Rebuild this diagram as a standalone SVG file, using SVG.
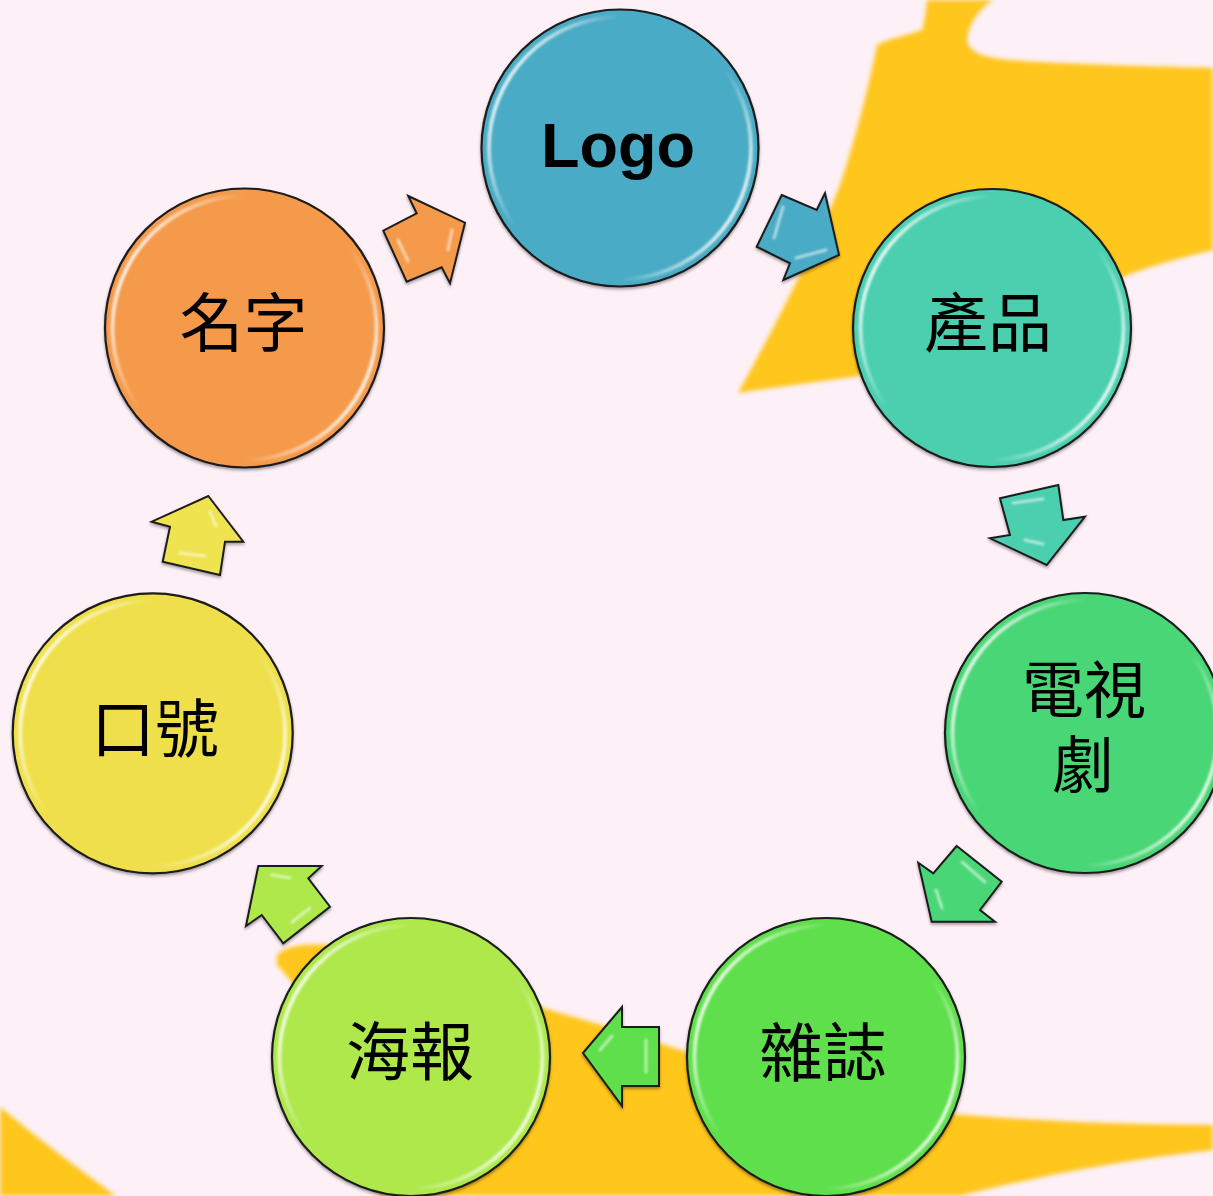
<svg xmlns="http://www.w3.org/2000/svg" width="1213" height="1196" viewBox="0 0 1213 1196">
<defs>
<style>
.bg{fill:#FDF0F7}
.swoosh{fill:#FFC61F}
.node{stroke:#1c1c1c;stroke-width:2.2}
.rim{fill:none;stroke:url(#rimGrad);stroke-width:4;filter:url(#soft)}
.arrow{stroke:#1c1c1c;stroke-width:2;stroke-linejoin:miter}
.ahl{fill:none;stroke:#ffffff;stroke-opacity:0.55;stroke-width:3;stroke-linecap:round;filter:url(#soft)}
.cjk{font-family:"Noto Sans CJK TC","Noto Sans CJK SC",sans-serif;font-size:64px;fill:#000;text-anchor:middle}
.latin{font-family:"Liberation Sans",Arial,sans-serif;font-size:63px;font-weight:bold;fill:#000;text-anchor:middle}
</style>
<linearGradient id="rimGrad" x1="0" y1="0.25" x2="1" y2="0.75">
<stop offset="0" stop-color="#fff" stop-opacity="0.95"/>
<stop offset="0.3" stop-color="#fff" stop-opacity="0"/>
<stop offset="0.7" stop-color="#fff" stop-opacity="0"/>
<stop offset="1" stop-color="#fff" stop-opacity="0.95"/>
</linearGradient>
<filter id="soft" x="-10%" y="-10%" width="120%" height="120%">
<feGaussianBlur stdDeviation="1"/>
</filter>
<filter id="shadow" x="-10%" y="-10%" width="120%" height="120%">
<feDropShadow dx="0" dy="2" stdDeviation="1.5" flood-color="#000" flood-opacity="0.35"/>
</filter>
<filter id="blurEdge" x="-5%" y="-5%" width="110%" height="110%">
<feGaussianBlur stdDeviation="2"/>
</filter>
</defs>

<g id="background">
<rect class="bg" x="0" y="0" width="1213" height="1196"/>
<path class="swoosh" filter="url(#blurEdge)" d="M927,0 L993,0 C978,10 968,25 967,40 C968,52 985,58 1010,60 C1060,64 1140,66 1213,68 L1213,250 C1180,258 1150,266 1128,275 C1040,310 930,360 853,377 C810,383 770,388 738,393 C770,335 810,260 840,185 C855,140 868,90 877,45 C890,38 905,36 922,30 C925,20 926,10 927,0 Z"/>
<path class="swoosh" filter="url(#blurEdge)" d="M0,1107 C40,1140 80,1170 116,1196 L0,1196 Z"/>
<path class="swoosh" filter="url(#blurEdge)" d="M277,955 C290,942 320,942 360,950 C430,965 500,995 550,1010 C620,1030 680,1050 760,1075 C840,1095 900,1110 965,1115 C1050,1122 1140,1125 1213,1125 L1213,1150 C1120,1160 1030,1178 960,1196 L380,1196 C360,1100 320,1010 277,965 Z"/>
</g>

<g id="connectors" filter="url(#shadow)">
<g id="arrow-logo-product">
<polygon class="arrow" fill="#4AABC5" points="781.7,195 816.7,210 825,193.3 839,255 783.3,280 790,263.3 756.7,246.7"/>
<path class="ahl" d="M783,207 L774,238 M796,258 L826,250"/>
</g>
<g id="arrow-product-tv">
<polygon class="arrow" fill="#4CCFAF" points="1000,498.3 1058.3,485 1063.3,520 1085,516.7 1046.7,565 990,538.3 1010,535"/>
<path class="ahl" d="M1013,503 L1043,499 M1025,540 L1043,544"/>
</g>
<g id="arrow-tv-magazine">
<polygon class="arrow" fill="#4AD676" points="956.7,846 1001.7,881.7 980,910 995,921.7 931.7,921.7 918.3,862.7 933.3,873.3"/>
<path class="ahl" d="M962,862 L985,882 M936,890 L942,908"/>
</g>
<g id="arrow-magazine-poster">
<polygon class="arrow" fill="#5FDF4B" points="583,1053 622,1007 622,1027 659,1027 659,1086 622,1086 622,1106"/>
<path class="ahl" d="M646,1040 L646,1072 M600,1050 L612,1036"/>
</g>
<g id="arrow-poster-slogan">
<polygon class="arrow" fill="#AEE84B" points="258.3,866 321.7,866 308.3,878.3 330,906.7 283.3,943.3 261.7,915 246,926"/>
<path class="ahl" d="M272,875 L290,878 M292,922 L310,908"/>
</g>
<g id="arrow-slogan-name">
<polygon class="arrow" fill="#EFE34F" points="208.3,496 243.3,541.7 225,541.7 220,575 162.7,561.7 170,526.7 151.7,521.7"/>
<path class="ahl" d="M210,512 L216,526 M180,553 L205,556"/>
</g>
<g id="arrow-name-logo">
<polygon class="arrow" fill="#F59A4B" points="408.3,196 465,222.7 450,283.3 441.7,267.3 406.7,281.7 383.3,230.7 416.7,213.3"/>
<path class="ahl" d="M398,240 L408,261 M452,230 L448,250"/>
</g>
</g>

<g id="node-logo">
<circle class="node" filter="url(#shadow)" cx="620" cy="148" r="138.5" fill="#4AABC5"/>
<circle class="rim" cx="620" cy="148" r="131"/>
<text class="latin" x="618" y="167">Logo</text>
</g>

<g id="node-product">
<circle class="node" filter="url(#shadow)" cx="992" cy="328" r="139" fill="#4CCFAF"/>
<circle class="rim" cx="992" cy="328" r="131.5"/>
<text class="cjk" x="988" y="346">產品</text>
</g>

<g id="node-tv">
<circle class="node" filter="url(#shadow)" cx="1085" cy="733" r="140" fill="#4AD676"/>
<circle class="rim" cx="1085" cy="733" r="132.5"/>
<text class="cjk" style="font-size:62px"><tspan x="1084" y="713">電視</tspan><tspan x="1083" y="788">劇</tspan></text>
</g>

<g id="node-magazine">
<circle class="node" filter="url(#shadow)" cx="826" cy="1057" r="139" fill="#5FDF4B"/>
<circle class="rim" cx="826" cy="1057" r="131.5"/>
<text class="cjk" x="823" y="1076">雜誌</text>
</g>

<g id="node-poster">
<circle class="node" filter="url(#shadow)" cx="411" cy="1057" r="139" fill="#AEE84B"/>
<circle class="rim" cx="411" cy="1057" r="131.5"/>
<text class="cjk" x="410" y="1075">海報</text>
</g>

<g id="node-slogan">
<circle class="node" filter="url(#shadow)" cx="152.7" cy="733.3" r="140" fill="#EFE04B"/>
<circle class="rim" cx="152.7" cy="733.3" r="132.5"/>
<text class="cjk" x="155" y="752">口號</text>
</g>

<g id="node-name">
<circle class="node" filter="url(#shadow)" cx="244.5" cy="328" r="139.5" fill="#F59A4B"/>
<circle class="rim" cx="244.5" cy="328" r="132"/>
<text class="cjk" x="243.5" y="346">名字</text>
</g>
</svg>
